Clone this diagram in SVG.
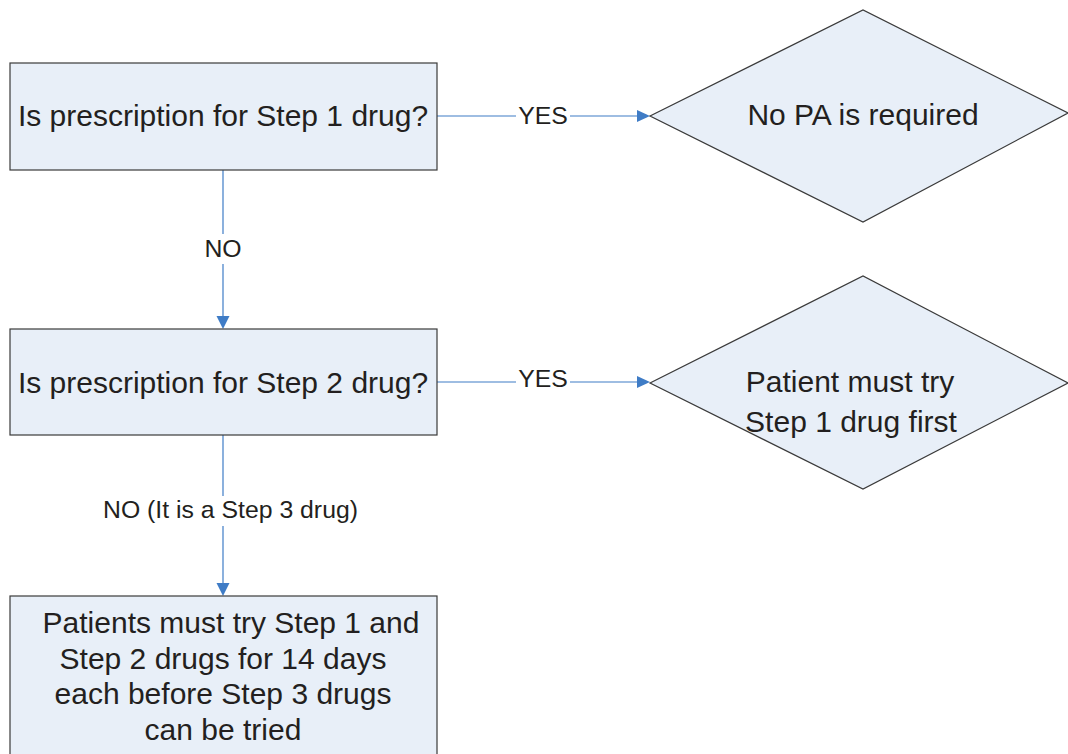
<svg xmlns="http://www.w3.org/2000/svg" width="1068" height="754" viewBox="0 0 1068 754">
<defs>
<style>
.node{fill:#E8EFF8;stroke:#3a3a3a;stroke-width:1.2}
.t{font-family:"Liberation Sans",Arial,sans-serif;font-size:30px;fill:#231F20;text-anchor:middle}
.lbl{font-family:"Liberation Sans",Arial,sans-serif;font-size:24.8px;fill:#231F20;text-anchor:middle}
.edge{stroke:#3F7CC6;stroke-width:1.2;fill:none}
.head{fill:#3F7CC6}
</style>
</defs>
<rect width="1068" height="754" fill="#ffffff"/>
<g id="connectors">
<line class="edge" x1="437" y1="116" x2="640" y2="116"/>
<polygon class="head" points="650,116 637,110 637,122"/>
<rect x="516" y="102" width="54" height="26" fill="#ffffff"/>
<text class="lbl" x="543" y="124">YES</text>
<line class="edge" x1="437" y1="382" x2="640" y2="382"/>
<polygon class="head" points="650,382 637,376 637,388"/>
<rect x="516" y="367" width="54" height="26" fill="#ffffff"/>
<text class="lbl" x="543" y="387">YES</text>
<line class="edge" x1="223" y1="170" x2="223" y2="318"/>
<polygon class="head" points="223,329 216.5,316 229.5,316"/>
<rect x="200" y="234" width="46" height="30" fill="#ffffff"/>
<text class="lbl" x="223" y="257">NO</text>
<line class="edge" x1="223" y1="435" x2="223" y2="585"/>
<polygon class="head" points="223,596 216.5,583 229.5,583"/>
<rect x="98" y="496" width="266" height="30" fill="#ffffff"/>
<text class="lbl" x="230.5" y="518">NO (It is a Step 3 drug)</text>
</g>
<g id="node-step1">
<rect class="node" x="10" y="63" width="427" height="107"/>
<text class="t" x="223" y="126">Is prescription for Step 1 drug?</text>
</g>
<g id="node-nopa">
<polygon class="node" points="650,116 863,10 1068,113 863,222"/>
<text class="t" x="863" y="125">No PA is required</text>
</g>
<g id="node-step2">
<rect class="node" x="10" y="329" width="427" height="106"/>
<text class="t" x="223" y="393">Is prescription for Step 2 drug?</text>
</g>
<g id="node-tryfirst">
<polygon class="node" points="650,383 863,276 1068,383 863,489"/>
<text class="t" x="850" y="392">Patient must try</text>
<text class="t" x="851" y="432">Step 1 drug first</text>
</g>
<g id="node-step3">
<rect class="node" x="10" y="596" width="427" height="170"/>
<text class="t" x="231" y="633">Patients must try Step 1 and</text>
<text class="t" x="223" y="669">Step 2 drugs for 14 days</text>
<text class="t" x="223" y="704">each before Step 3 drugs</text>
<text class="t" x="223" y="740">can be tried</text>
</g>
</svg>
